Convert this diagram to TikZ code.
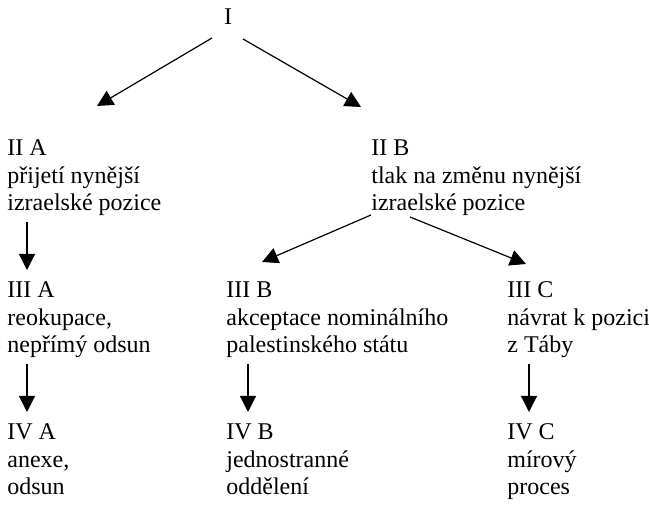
\documentclass[tikz,border=0pt]{standalone}
\usepackage{fontspec}
\setmainfont{Liberation Serif}
\usetikzlibrary{arrows.meta}

\begin{document}
\begin{tikzpicture}[x=1pt, y=1pt,
    every node/.style={font=\fontsize{12}{13.8}\selectfont, inner sep=0pt},
    option/.style={anchor=base west, align=left},
    arr/.style={-{Triangle[width=8pt, length=8pt]}, line width=0.6pt}]
				\useasboundingbox (0,0) rectangle (324.5,-264);
				\node[anchor=base] (i) at (114,-12.5) {I};
				\node[option] (iia) at (3.5,-105.35) {II A\\přijetí nynější\\izraelské pozice};
				\node[option] (iib) at (185.5,-105.35) {II B\\tlak na změnu nynější\\izraelské pozice};
				\node[option] (iiia) at (3.5,-176.35) {III A\\reokupace,\\nepřímý odsun};
				\node[option] (iiib) at (113,-176.35) {III B\\akceptace nominálního\\palestinského státu};
				\node[option] (iiic) at (253.5,-176.35) {III C\\návrat k pozici\\z Táby};
				\node[option] (iva) at (3.5,-247.35) {IV A\\anexe,\\odsun};
				\node[option] (ivb) at (113,-247.35) {IV B\\jednostranné\\oddělení};
				\node[option] (ivc) at (253.5,-247.35) {IV C\\mírový\\proces};
				\draw[arr] ([shift={(-8,-6.5)}]i.base) -- ([shift={(45,52.35)}]iia.base west);
				\draw[arr] ([shift={(7.5,-7)}]i.base) -- ([shift={(-5,51.85)}]iib.base west);
				\draw[arr] ([shift={(10,-5.65)}]iia.base west) -- ([shift={(10,41.35)}]iiia.base west);
				\draw[arr] ([shift={(0,-2.15)}]iib.base west) -- ([shift={(18,45.35)}]iiib.base west);
				\draw[arr] ([shift={(19.5,-3.15)}]iib.base west) -- ([shift={(9.5,44.35)}]iiic.base west);
				\draw[arr] ([shift={(10,-5.65)}]iiia.base west) -- ([shift={(10,41.35)}]iva.base west);
				\draw[arr] ([shift={(11,-5.65)}]iiib.base west) -- ([shift={(11,41.35)}]ivb.base west);
				\draw[arr] ([shift={(11,-5.65)}]iiic.base west) -- ([shift={(11,41.35)}]ivc.base west);
			\end{tikzpicture}
\end{document}
